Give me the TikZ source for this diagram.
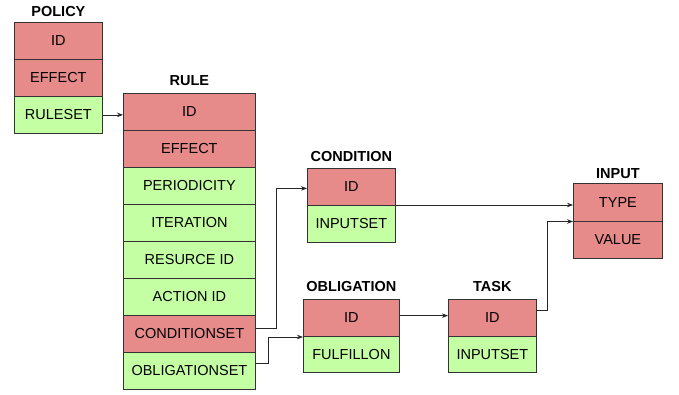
\documentclass[tikz,border=0pt]{standalone}
\usepackage{fontspec}
\setmainfont{Liberation Sans}
\usetikzlibrary{arrows.meta}
\definecolor{cellred}{HTML}{E68A8A}
\definecolor{cellgreen}{HTML}{C4FFA3}
\definecolor{edgec}{HTML}{333333}
\begin{document}
\begin{tikzpicture}[x=1pt,y=-1pt,
  cell/.style={draw=edgec, line width=0.8pt, anchor=north west, inner sep=0pt,
    font=\fontsize{14.5}{16}\selectfont},
  redcell/.style={cell, fill=cellred},
  greencell/.style={cell, fill=cellgreen},
  ttl/.style={font=\fontsize{14.5}{16}\selectfont\bfseries, inner sep=0pt},
  conn/.style={draw=black!85, line width=0.8pt, -{Stealth[length=6pt,width=4.5pt]}}
]
\useasboundingbox[fill=white] (0,0) rectangle (679,394);

% POLICY
\begin{scope}[every node/.append style={minimum width=88pt, minimum height=37pt}]
\node[redcell] (pid) at (14,22) {ID};
\node[redcell] (peff) at (14,59) {EFFECT};
\node[greencell] (prs) at (14,96) {RULESET};
\end{scope}
\node[ttl] (ptitle) at ([yshift=10pt]pid.north) {POLICY};

% RULE
\begin{scope}[every node/.append style={minimum width=132pt, minimum height=37pt}]
\node[redcell] (rid) at (123,93) {ID};
\node[redcell] (reff) at (123,130) {EFFECT};
\node[greencell] (rper) at (123,167) {PERIODICITY};
\node[greencell] (rit) at (123,204) {ITERATION};
\node[greencell] (rres) at (123,241) {RESURCE ID};
\node[greencell] (ract) at (123,278) {ACTION ID};
\node[redcell] (rcond) at (123,315) {CONDITIONSET};
\node[greencell] (robl) at (123,352) {OBLIGATIONSET};
\end{scope}
\node[ttl] (rtitle) at ([yshift=12pt]rid.north) {RULE};

% CONDITION
\begin{scope}[every node/.append style={minimum width=88pt, minimum height=37pt}]
\node[redcell] (cid) at (307,168) {ID};
\node[greencell] (cin) at (307,205) {INPUTSET};
\end{scope}
\node[ttl] (ctitle) at ([yshift=11pt]cid.north) {CONDITION};

% OBLIGATION
\begin{scope}[every node/.append style={minimum width=96pt, minimum height=36.5pt}]
\node[redcell] (oid) at (303,299) {ID};
\node[greencell] (oful) at (303,335.5) {FULFILLON};
\end{scope}
\node[ttl] (otitle) at ([yshift=12pt]oid.north) {OBLIGATION};

% TASK
\begin{scope}[every node/.append style={minimum width=88pt, minimum height=36.5pt}]
\node[redcell] (tid) at (448,299) {ID};
\node[greencell] (tin) at (448,335.5) {INPUTSET};
\end{scope}
\node[ttl] (ttitle) at ([yshift=12pt]tid.north) {TASK};

% INPUT
\begin{scope}[every node/.append style={minimum width=89pt, minimum height=37.5pt}]
\node[redcell] (itype) at (573,183) {TYPE};
\node[redcell] (ival) at (573,220.5) {VALUE};
\end{scope}
\node[ttl] (ititle) at ([yshift=9.5pt]itype.north) {INPUT};

% connectors
\draw[conn] (prs.east) -- (prs.east -| rid.west);
\draw[conn] ([yshift=5.5pt]rcond.east) -- ++(21,0) |- ([yshift=-1.5pt]cid.west);
\draw[conn] ([yshift=7.5pt]robl.east) -- ++(13,0) |- ([yshift=-1.5pt]oful.north west);
\draw[conn] (cin.north east) -- (cin.north east -| itype.west);
\draw[conn] ([yshift=2pt]oid.east) -- ([yshift=2pt]oid.east -| tid.west);
\draw[conn] ([yshift=7.5pt]tid.east) -- ++(11,0) |- ([yshift=-1pt]ival.north west);
\end{tikzpicture}
\end{document}
